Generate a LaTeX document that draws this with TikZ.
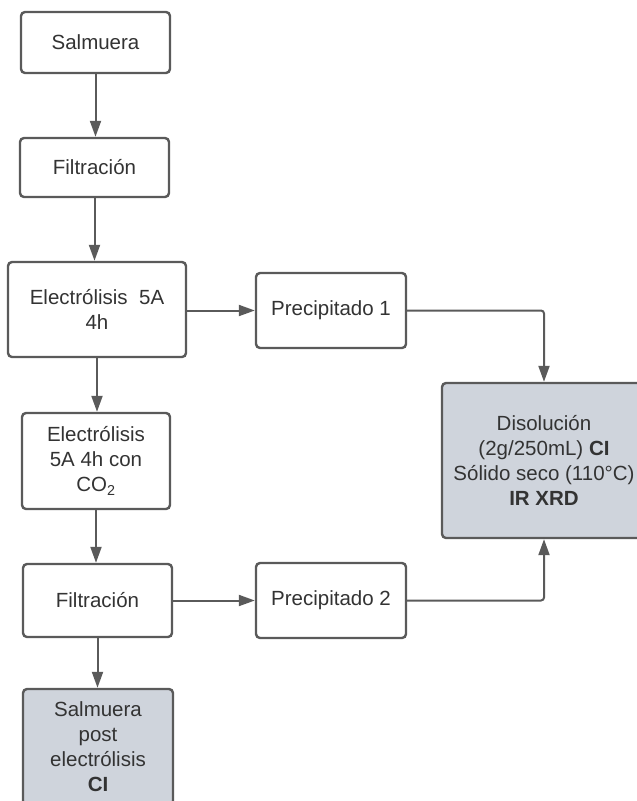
\documentclass[tikz,border=0pt]{standalone}
\usepackage{fontspec}
\setmainfont{Liberation Sans}
\usetikzlibrary{arrows.meta}
\definecolor{strk}{HTML}{5A5A5A}
\definecolor{txt}{HTML}{333333}
\definecolor{boxfill}{HTML}{CFD4DC}
\begin{document}
\begin{tikzpicture}[x=1pt,y=-1pt,
  box/.style={draw=strk, line width=2.4pt, rounded corners=4pt, fill=white,
    text=txt, align=center, inner sep=0pt,
    font=\fontsize{20.5}{25}\selectfont},
  grey/.style={box, fill=boxfill},
  conn/.style={draw=strk, line width=2pt, rounded corners=3pt,
    -{Triangle[length=16pt,width=11pt]}}]
\useasboundingbox (0,0) rectangle (637,801);
\node[box, minimum width=149, minimum height=61] (sal) at (95.5,42.5) {Salmuera};
\node[box, minimum width=149, minimum height=59] (fil1) at (94.5,167.5) {Filtración};
\node[box, minimum width=178, minimum height=95] (el1) at (97,309.5) {Electrólisis~~5A\\4h};
\node[box, minimum width=150, minimum height=75] (pr1) at (331,310.5) {Precipitado 1};
\node[grey, minimum width=204, minimum height=155] (dis) at (544,460.5) {Disolución\\(2g/250mL) \textbf{CI}\\Sólido seco (110°C)\\\textbf{IR XRD}};
\node[box, minimum width=148, minimum height=96] (el2) at (96,461) {Electrólisis\\5A 4h con\\CO\textsubscript{2}};
\node[box, minimum width=149, minimum height=73] (fil2) at (97.5,600.5) {Filtración};
\node[box, minimum width=150, minimum height=75] (pr2) at (331,600.5) {Precipitado 2};
\node[grey, minimum width=150, minimum height=116] (salp) at (98,747) {Salmuera\\post\\electrólisis\\\textbf{CI}};
\draw[conn] (sal.south) -- (sal.south |- fil1.north);
\draw[conn] (fil1.south) -- (fil1.south |- el1.north);
\draw[conn] (el1.east |- pr1.west) -- (pr1.west);
\draw[conn] (el1.south) -- (el1.south |- el2.north);
\draw[conn] (pr1.east) -- (dis.north |- pr1.east) -- (dis.north);
\draw[conn] (el2.south) -- (el2.south |- fil2.north);
\draw[conn] (fil2.east) -- (pr2.west);
\draw[conn] (fil2.south) -- (fil2.south |- salp.north);
\draw[conn] (pr2.east) -- (dis.south |- pr2.east) -- (dis.south);
\end{tikzpicture}
\end{document}
